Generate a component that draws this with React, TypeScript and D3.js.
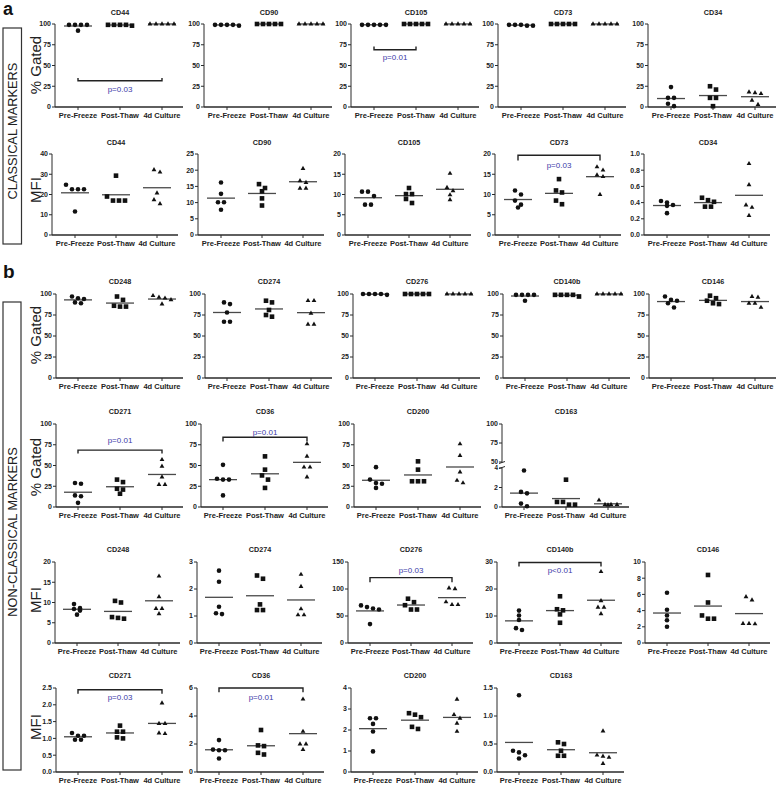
import React from "react";
import * as d3 from "d3";

// ---------- data ----------
const categories = ["Pre-Freeze", "Post-Thaw", "4d Culture"];
const gatedTicks = [0, 25, 50, 75, 100];

// Classical markers, % gated
const cd44Gated = [[99, 99, 99, 99, 92], [99, 99, 98, 99, 99], [100, 100, 100, 100, 100]];
const cd90Gated = [[99, 99, 98, 99, 99], [100, 100, 100, 100, 100], [100, 100, 100, 100, 100]];
const cd105Gated = [[99, 99, 99, 99, 99], [100, 100, 100, 100, 100], [100, 100, 100, 100, 100]];
const cd73Gated = [[99, 99, 98, 98, 99], [100, 100, 100, 100, 100], [100, 100, 100, 100, 100]];
const cd34Gated = [[24, 11, 11, 4, 1], [25, 21, 11, 11, 1], [18, 17, 16, 8, 3]];

// Classical markers, MFI
const cd44Mfi = [[24.8, 22.6, 22.6, 22.6, 11.6], [29.3, 19, 17, 17, 17], [32.2, 31, 20.7, 15.4, 17.4]];
const cd90Mfi = [[16.2, 12.7, 10.1, 10.1, 7.8], [15.7, 14.5, 13.5, 11.3, 9.1], [20.5, 16.7, 16.2, 14.4, 14.4]];
const cd105Mfi = [[10.7, 10.7, 9.6, 7.5, 7.5], [11.6, 10.1, 10.1, 7.9, 8.9], [15.2, 11.7, 10.9, 9.9, 8.7]];
const cd73Mfi = [[11, 10, 8.5, 7.5, 6.8], [13.8, 11, 10.5, 7.6, 8.5], [16.8, 16, 14.8, 14.4, 10]];
const cd34Mfi = [[0.42, 0.4, 0.37, 0.36, 0.27], [0.46, 0.43, 0.41, 0.35, 0.35], [0.88, 0.62, 0.37, 0.34, 0.24]];

// Non-classical markers, % gated
const cd248Gated = [[97, 95, 94, 90, 89], [97, 93, 86, 85, 85], [98, 96, 95, 93, 88]];
const cd274Gated = [[90, 88, 78, 67, 67], [92, 90, 81, 75, 73], [92, 92, 77, 64, 64]];
const cd276Gated = [[100, 100, 99, 100, 100], [100, 100, 100, 100, 100], [100, 100, 100, 100, 100]];
const cd140bGated = [[99, 99, 99, 99, 92], [99, 99, 97, 99, 99], [100, 100, 100, 100, 100]];
const cd146Gated = [[97, 93, 92, 89, 84], [98, 95, 92, 88, 89], [97, 96, 89, 89, 84]];
const cd271Gated = [[29, 28, 14, 13, 5], [33, 30, 22, 21, 16], [57, 49, 36, 27, 27]];
const cd36Gated = [[50.8, 33, 33, 34, 14], [61, 45, 38, 33, 23], [76, 61, 48, 48, 36]];
const cd200Gated = [[48, 33, 29, 28, 23], [55, 45, 31, 31, 31], [76, 62, 42, 29, 32]];
const cd163Gated = [[3.75, 1.55, 1.4, 0.35, 0.07], [2.8, 0.52, 0.24, 0.24, 0.52], [0.7, 0.25, 0.25, 0.25, 0.2]];

// Non-classical markers, MFI
const cd248Mfi = [[9.6, 8.4, 8.6, 8.0, 7.0], [10.4, 10.0, 6.4, 6.0, 6.2], [16.5, 11.4, 8.5, 8.5, 7.2]];
const cd274Mfi = [[2.68, 2.27, 1.34, 1.07, 1.1], [2.5, 2.38, 1.43, 1.22, 1.22], [2.54, 2.09, 1.26, 1.04, 1.04]];
const cd276Mfi = [[69.6, 64, 62, 66.5, 35], [82, 75.6, 70, 62, 62], [101.6, 100.4, 76, 71, 71]];
const cd140bMfi = [[12, 10.2, 8.5, 4.8, 5.5], [17.3, 12.5, 12.1, 10.6, 7.5], [26.4, 15.6, 13.2, 13.2, 10.8]];
const cd146Mfi = [[6.2, 4.1, 3.4, 2.8, 2.0], [8.4, 5.0, 3.4, 3.0, 3.0], [5.7, 5.3, 2.4, 2.35, 2.4]];
const cd271Mfi = [[1.08, 1.16, 1.08, 0.96, 0.96], [1.38, 1.2, 1.2, 1.03, 1.0], [2.05, 1.44, 1.44, 1.14, 1.16]];
const cd36Mfi = [[2.28, 1.6, 1.55, 1.55, 0.96], [3.0, 1.9, 1.85, 1.37, 1.25], [5.2, 2.9, 2.0, 2.0, 1.6]];
const cd200Mfi = [[2.56, 2.56, 2.29, 1.93, 0.98], [2.8, 2.73, 2.61, 2.15, 2.05], [3.46, 2.73, 2.56, 2.32, 1.93]];
const cd163Mfi = [[1.37, 0.38, 0.35, 0.3, 0.24], [0.53, 0.5, 0.38, 0.29, 0.29], [0.73, 0.3, 0.26, 0.28, 0.15]];

// Significance brackets: [from, to, line value, tick-end value, text value, label]
const cd44GatedP = [0, 2, 31.7, 35, 22, "p=0.03"];
const cd105GatedP = [0, 1, 69, 73, 60, "p=0.01"];
const cd73MfiP = [0, 2, 19.7, 18.4, 17.2, "p=0.03"];
const cd271GatedP = [0, 2, 68.5, 64.5, 81, "p=0.01"];
const cd36GatedP = [0, 2, 84, 79, 90, "p=0.01"];
const cd276MfiP = [0, 2, 121, 112.5, 134, "p=0.03"];
const cd140bMfiP = [0, 2, 29.8, 28.3, 27.0, "p<0.01"];
const cd271MfiP = [0, 2, 2.45, 2.33, 2.23, "p=0.03"];
const cd36MfiP = [0, 2, 6, 5.7, 5.35, "p=0.01"];

// ---------- layout ----------
const rows = [
  { top: 24, bottom: 107, title: 15, xs: [55, 204, 351, 498, 648], mid: 65, sp: 42, label: "% Gated", labelY: 65 },
  { top: 154, bottom: 235, title: 145, xs: [52, 198, 345, 495, 644], mid: 64, sp: 41, label: "MFI", labelY: 190 },
  { top: 294, bottom: 378, title: 284, xs: [56, 205, 353, 503, 649], mid: 64, sp: 42, label: "% Gated", labelY: 335 },
  { top: 424, bottom: 507, title: 414, xs: [56, 201, 354, 502], mid: 64, sp: 42, label: "% Gated", labelY: 467 },
  { top: 562, bottom: 643, title: 552, xs: [55, 197, 348, 497, 645], mid: 63, sp: 41, label: "MFI", labelY: 600 },
  { top: 688, bottom: 772, title: 678, xs: [56, 197, 351, 497], mid: 64, sp: 42, label: "MFI", labelY: 727 },
];

type PanelDef = {
  row: number; col: number; title: string; data: number[][];
  max: number; ticks: number[]; fmt?: string; bracket?: any[]; broken?: boolean;
};

const panels: PanelDef[] = [
  { row: 0, col: 0, title: "CD44", data: cd44Gated, max: 100, ticks: gatedTicks, bracket: cd44GatedP },
  { row: 0, col: 1, title: "CD90", data: cd90Gated, max: 100, ticks: gatedTicks },
  { row: 0, col: 2, title: "CD105", data: cd105Gated, max: 100, ticks: gatedTicks, bracket: cd105GatedP },
  { row: 0, col: 3, title: "CD73", data: cd73Gated, max: 100, ticks: gatedTicks },
  { row: 0, col: 4, title: "CD34", data: cd34Gated, max: 100, ticks: gatedTicks },
  { row: 1, col: 0, title: "CD44", data: cd44Mfi, max: 40, ticks: [0, 10, 20, 30, 40] },
  { row: 1, col: 1, title: "CD90", data: cd90Mfi, max: 25, ticks: [0, 5, 10, 15, 20, 25] },
  { row: 1, col: 2, title: "CD105", data: cd105Mfi, max: 20, ticks: [0, 5, 10, 15, 20] },
  { row: 1, col: 3, title: "CD73", data: cd73Mfi, max: 20, ticks: [0, 5, 10, 15, 20], bracket: cd73MfiP },
  { row: 1, col: 4, title: "CD34", data: cd34Mfi, max: 1, ticks: [0, 0.2, 0.4, 0.6, 0.8, 1.0], fmt: ".1f" },
  { row: 2, col: 0, title: "CD248", data: cd248Gated, max: 100, ticks: gatedTicks },
  { row: 2, col: 1, title: "CD274", data: cd274Gated, max: 100, ticks: gatedTicks },
  { row: 2, col: 2, title: "CD276", data: cd276Gated, max: 100, ticks: gatedTicks },
  { row: 2, col: 3, title: "CD140b", data: cd140bGated, max: 100, ticks: gatedTicks },
  { row: 2, col: 4, title: "CD146", data: cd146Gated, max: 100, ticks: gatedTicks },
  { row: 3, col: 0, title: "CD271", data: cd271Gated, max: 100, ticks: gatedTicks, bracket: cd271GatedP },
  { row: 3, col: 1, title: "CD36", data: cd36Gated, max: 100, ticks: gatedTicks, bracket: cd36GatedP },
  { row: 3, col: 2, title: "CD200", data: cd200Gated, max: 100, ticks: gatedTicks },
  { row: 3, col: 3, title: "CD163", data: cd163Gated, max: 100, ticks: [0, 2, 4, 50, 75, 100], broken: true },
  { row: 4, col: 0, title: "CD248", data: cd248Mfi, max: 20, ticks: [0, 5, 10, 15, 20] },
  { row: 4, col: 1, title: "CD274", data: cd274Mfi, max: 3, ticks: [0, 1, 2, 3] },
  { row: 4, col: 2, title: "CD276", data: cd276Mfi, max: 150, ticks: [0, 50, 100, 150], bracket: cd276MfiP },
  { row: 4, col: 3, title: "CD140b", data: cd140bMfi, max: 30, ticks: [0, 10, 20, 30], bracket: cd140bMfiP },
  { row: 4, col: 4, title: "CD146", data: cd146Mfi, max: 10, ticks: [0, 2, 4, 6, 8, 10] },
  { row: 5, col: 0, title: "CD271", data: cd271Mfi, max: 2.5, ticks: [0, 0.5, 1.0, 1.5, 2.0, 2.5], fmt: ".1f", bracket: cd271MfiP },
  { row: 5, col: 1, title: "CD36", data: cd36Mfi, max: 6, ticks: [0, 2, 4, 6], bracket: cd36MfiP },
  { row: 5, col: 2, title: "CD200", data: cd200Mfi, max: 4, ticks: [0, 1, 2, 3, 4] },
  { row: 5, col: 3, title: "CD163", data: cd163Mfi, max: 1.5, ticks: [0, 0.5, 1.0, 1.5], fmt: ".1f" },
];

const FONT = "'Liberation Sans', Arial, Helvetica, sans-serif";
const AX = "#2a2a2a";

function swarm(vals: number[], y: (v: number) => number, cx: number) {
  const pts = vals.map((v) => ({ v, py: y(v) })).sort((a, b) => a.py - b.py);
  const out: { x: number; y: number }[] = [];
  let i = 0;
  while (i < pts.length) {
    let j = i + 1;
    while (j < pts.length && pts[j].py - pts[i].py < 4.5) j++;
    const n = j - i;
    for (let k = i; k < j; k++) out.push({ x: cx + (k - i - (n - 1) / 2) * 6, y: pts[k].py });
    i = j;
  }
  return out;
}

const triPath = d3.symbol(d3.symbolTriangle, 10)() as string;

function Marker({ g, x, y }: { g: number; x: number; y: number }) {
  if (g === 0) return <circle cx={x} cy={y} r={2.3} fill="#111" />;
  if (g === 1) return <rect x={x - 2.3} y={y - 2.3} width={4.6} height={4.6} fill="#111" />;
  return <path d={triPath} transform={`translate(${x},${y})`} fill="#111" />;
}

function Panel({ p }: { p: PanelDef }) {
  const r = rows[p.row];
  const x0 = r.xs[p.col];
  const y = p.broken
    ? d3.scaleLinear().domain([0, 4, 50, 100]).range([r.bottom, r.bottom - 39, r.top + 38, r.top])
    : d3.scaleLinear().domain([0, p.max]).range([r.bottom, r.top]);
  const first = x0 + r.mid - r.sp;
  const x = d3.scalePoint<string>().domain(categories).range([first, first + 2 * r.sp]);
  const xEnd = x0 + r.mid + r.sp + 21;
  const fmt = p.fmt ? d3.format(p.fmt) : (v: number) => String(v);
  const b = p.bracket;
  return (
    <g>
      <text x={x(categories[1])} y={r.title} textAnchor="middle" fontSize={7.2} fontWeight="bold" fill="#222">
        {p.title}
      </text>
      {p.broken ? (
        <g stroke={AX} strokeWidth={1}>
          <line x1={x0} x2={x0} y1={r.top} y2={y(50) + 0.5} />
          <line x1={x0} x2={x0} y1={y(4) - 0.5} y2={r.bottom} />
          <line x1={x0 - 3} x2={x0 + 3} y1={y(50) + 1.5} y2={y(50) - 0.5} />
          <line x1={x0 - 3} x2={x0 + 3} y1={y(4) + 0.5} y2={y(4) - 1.5} />
        </g>
      ) : (
        <line x1={x0} x2={x0} y1={r.top} y2={r.bottom} stroke={AX} strokeWidth={1} />
      )}
      {p.ticks.map((t) => (
        <g key={t}>
          <line x1={x0 - 3} x2={x0} y1={y(t)} y2={y(t)} stroke={AX} strokeWidth={1} />
          <text x={x0 - 4} y={y(t)} dy="0.35em" textAnchor="end" fontSize={p.broken && (t === 4 || t === 50) ? 6.3 : 7} fontWeight="bold" fill="#222">
            {fmt(t)}
          </text>
        </g>
      ))}
      <line x1={x0} x2={xEnd} y1={r.bottom} y2={r.bottom} stroke={AX} strokeWidth={1.4} />
      {categories.map((c) => (
        <g key={c}>
          <line x1={x(c)} x2={x(c)} y1={r.bottom} y2={r.bottom + 3} stroke={AX} strokeWidth={1} />
          <text x={x(c)} y={r.bottom + 11} textAnchor="middle" fontSize={7.5} fontWeight="bold" fill="#222">
            {c}
          </text>
        </g>
      ))}
      {p.data.map((vals, g) => {
        const cx = x(categories[g]) as number;
        const mean = d3.mean(vals) as number;
        return (
          <g key={g}>
            <line x1={cx - 14} x2={cx + 14} y1={y(mean)} y2={y(mean)} stroke="#4a4a4a" strokeWidth={1.3} />
            {swarm(vals, y, cx).map((pt, i) => (
              <Marker key={i} g={g} x={pt.x} y={pt.y} />
            ))}
          </g>
        );
      })}
      {b && (
        <g>
          <path
            d={`M${x(categories[b[0]])},${y(b[3])}V${y(b[2])}H${x(categories[b[1]])}V${y(b[3])}`}
            fill="none"
            stroke="#222"
            strokeWidth={1.4}
          />
          <text
            x={((x(categories[b[0]]) as number) + (x(categories[b[1]]) as number)) / 2}
            y={y(b[4])}
            dy="0.35em"
            textAnchor="middle"
            fontSize={8}
            fill="#3b3ba8"
          >
            {b[5]}
          </text>
        </g>
      )}
    </g>
  );
}

export default function App() {
  return (
    <svg
      width={778}
      height={785}
      style={{ position: "absolute", left: 0, top: 0, background: "#fff" }}
      fontFamily={FONT}
    >
      <rect x={0} y={0} width={778} height={785} fill="#fff" />
      <text x={3} y={15} fontSize={18} fontWeight="bold" fill="#111">a</text>
      <text x={3} y={278} fontSize={19} fontWeight="bold" fill="#111">b</text>
      <rect x={3} y={28} width={18.5} height={216} fill="none" stroke="#333" strokeWidth={1.2} />
      <rect x={3} y={302} width={18} height={468} fill="none" stroke="#333" strokeWidth={1.2} />
      <text transform="translate(17,131) rotate(-90)" textAnchor="middle" fontSize={12.8} fill="#222">
        CLASSICAL MARKERS
      </text>
      <text transform="translate(17,532) rotate(-90)" textAnchor="middle" fontSize={12.8} fill="#222">
        NON-CLASSICAL MARKERS
      </text>
      {rows.map((r, i) => (
        <text key={i} transform={`translate(41,${r.labelY}) rotate(-90)`} textAnchor="middle" fontSize={15} fill="#222">
          {r.label}
        </text>
      ))}
      {panels.map((p, i) => (
        <Panel key={i} p={p} />
      ))}
    </svg>
  );
}
